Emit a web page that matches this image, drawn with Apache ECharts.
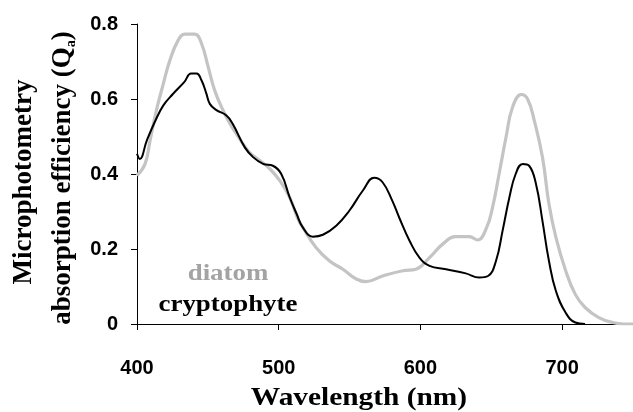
<!DOCTYPE html>
<html>
<head>
<meta charset="utf-8">
<script src="https://cdn.jsdelivr.net/npm/echarts@6/dist/echarts.min.js"></script>
<style>
  html, body { margin: 0; padding: 0; background: #fff; }
  #chart { width: 633px; height: 412px; }
</style>
</head>
<body>
<div id="chart"></div>
<script>
// Absorption spectra (wavelength in nm, absorption efficiency Qa)
const cryptoWavelength = [400, 402, 406.9, 412.7, 418.6, 425.5, 433.3, 438.2, 442.1, 445.5, 448.9, 451.4, 455.8, 463.1, 467.5, 476.1, 481.9, 489, 495.9, 501.8, 507.7, 512.6, 517.1, 524.1, 531.2, 540.6, 549.8, 559.4, 567.4, 573.3, 580.1, 585, 592.3, 599.3, 606.4, 618.1, 632, 641.5, 647.7, 653.3, 658, 662.8, 667.2, 672.2, 676.7, 681.5, 686.1, 690.7, 695.6, 702.5, 709.3, 716.2];
const cryptoQa = [0.454, 0.44, 0.489, 0.54, 0.583, 0.614, 0.645, 0.668, 0.668, 0.65, 0.615, 0.587, 0.571, 0.556, 0.534, 0.471, 0.445, 0.427, 0.422, 0.4, 0.338, 0.294, 0.257, 0.233, 0.238, 0.262, 0.302, 0.356, 0.39, 0.378, 0.329, 0.284, 0.222, 0.177, 0.155, 0.146, 0.135, 0.124, 0.128, 0.168, 0.249, 0.338, 0.4, 0.427, 0.422, 0.374, 0.275, 0.168, 0.088, 0.03, 0.004, 0];

const diatomWavelength = [400, 405.7, 409.2, 413.7, 418.6, 423.2, 429.1, 433.8, 440.8, 445.5, 450.2, 454.8, 460.7, 465.6, 472.4, 479.3, 486.6, 493.7, 500.8, 507.7, 513.6, 517.1, 526.3, 535.9, 545.3, 554.7, 561.5, 573.3, 587.6, 596.8, 606.4, 615.7, 625.1, 634.5, 640.3, 646.7, 650.9, 655.5, 660.4, 665, 671.2, 675.6, 680.3, 686.1, 690.7, 695.6, 702.5, 709.3, 716.2, 725.9, 735.6, 743.6, 750];
const diatomQa = [0.396, 0.427, 0.489, 0.57, 0.641, 0.703, 0.757, 0.773, 0.773, 0.748, 0.686, 0.623, 0.57, 0.534, 0.494, 0.458, 0.436, 0.414, 0.382, 0.338, 0.28, 0.257, 0.204, 0.168, 0.146, 0.12, 0.113, 0.128, 0.142, 0.146, 0.177, 0.213, 0.233, 0.233, 0.224, 0.257, 0.311, 0.4, 0.498, 0.578, 0.612, 0.6, 0.543, 0.445, 0.32, 0.231, 0.142, 0.079, 0.044, 0.017, 0.004, 0, 0];

const xTicks = { min: 400, max: 750, step: 100 };
const yTicks = { min: 0, max: 0.8, step: 0.2 };

const pairs = (xs, ys) => xs.map((x, i) => [x, ys[i]]);

const serif = '"Liberation Serif", "Times New Roman", serif';
const sans = '"Liberation Sans", Arial, sans-serif';

const chart = echarts.init(document.getElementById('chart'), null, { renderer: 'canvas' });

chart.setOption({
  animation: false,
  backgroundColor: '#fff',
  grid: { left: 137, right: 0, top: 24, bottom: 88, containLabel: false },
  xAxis: {
    type: 'value',
    min: xTicks.min, max: xTicks.max, interval: xTicks.step,
    axisLine: { show: true, lineStyle: { color: '#000', width: 1 } },
    axisTick: { show: true, inside: false, length: 6, lineStyle: { color: '#000' } },
    splitLine: { show: false },
    axisLabel: {
      margin: 34, color: '#000', fontSize: 20, fontWeight: 'bold', fontFamily: sans,
      showMaxLabel: false
    }
  },
  yAxis: {
    type: 'value',
    min: yTicks.min, max: yTicks.max, interval: yTicks.step,
    axisLine: { show: true, lineStyle: { color: '#000', width: 1 } },
    axisTick: { show: true, inside: false, length: 6, lineStyle: { color: '#000' } },
    splitLine: { show: false },
    axisLabel: { margin: 19, color: '#000', fontSize: 20, fontWeight: 'bold', fontFamily: sans }
  },
  series: [
    {
      name: 'diatom', type: 'line', data: pairs(diatomWavelength, diatomQa),
      showSymbol: false, smooth: 0.45,
      lineStyle: { color: '#c4c4c4', width: 3.2 }
    },
    {
      name: 'cryptophyte', type: 'line', data: pairs(cryptoWavelength, cryptoQa),
      showSymbol: false, smooth: 0.45,
      lineStyle: { color: '#000', width: 2 }
    }
  ],
  graphic: [
    {
      type: 'text', x: 24, y: 182, rotation: Math.PI / 2,
      style: { text: 'Microphotometry', font: 'bold 27px ' + serif, fill: '#000', align: 'center', verticalAlign: 'middle' }
    },
    {
      type: 'text', x: 63, y: 178, rotation: Math.PI / 2,
      style: {
        text: 'absorption efficiency (Q{s|a})',
        font: 'bold 27px ' + serif, fill: '#000', align: 'center', verticalAlign: 'middle',
        rich: { s: { fontSize: 14, fontWeight: 'bold', fontFamily: serif, fill: '#000', verticalAlign: 'bottom', lineHeight: 30 } }
      }
    },
    {
      type: 'text', x: 359, y: 398, scaleX: 1.13,
      style: { text: 'Wavelength (nm)', font: 'bold 26px ' + serif, fill: '#000', align: 'center', verticalAlign: 'middle' }
    },
    {
      type: 'text', x: 228, y: 274, scaleX: 1.12,
      style: { text: 'diatom', font: 'bold 24px ' + serif, fill: '#a3a3a3', align: 'center', verticalAlign: 'middle' }
    },
    {
      type: 'text', x: 228, y: 305, scaleX: 1.12,
      style: { text: 'cryptophyte', font: 'bold 24px ' + serif, fill: '#000', align: 'center', verticalAlign: 'middle' }
    }
  ]
});
</script>
</body>
</html>
